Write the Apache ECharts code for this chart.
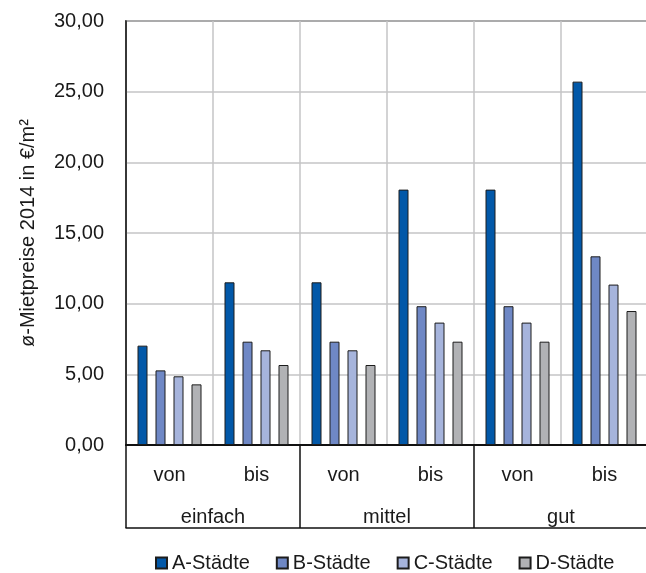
<!DOCTYPE html>
<html>
<head>
<meta charset="utf-8">
<script src="https://cdn.jsdelivr.net/npm/echarts@6/dist/echarts.min.js"></script>
<style>
  html, body { margin: 0; padding: 0; background: #fff; }
  #chart { width: 646px; height: 573px; }
</style>
</head>
<body>
<div id="chart"></div>
<script>
// Rental price ranges (von/bis) per location quality and city class
const subCategories = ['von', 'bis', 'von', 'bis', 'von', 'bis'];
const groups = ['einfach', 'mittel', 'gut'];
const seriesNames = ['A-Städte', 'B-Städte', 'C-Städte', 'D-Städte'];
const aStaedte = [7.03, 11.51, 11.51, 18.07, 18.07, 25.71];
const bStaedte = [5.28, 7.31, 7.31, 9.82, 9.82, 13.35];
const cStaedte = [4.86, 6.70, 6.70, 8.66, 8.66, 11.35];
const dStaedte = [4.29, 5.66, 5.66, 7.31, 7.31, 9.48];
const colors = ['#0258A8', '#6F88C5', '#A6B4DC', '#B1B2B5'];
const yTicks = { min: 0, max: 30, step: 5 };

const font = 'Liberation Sans, Arial, sans-serif';
const textColor = '#1a1a1a';
const values = [aStaedte, bStaedte, cStaedte, dStaedte];

const chart = echarts.init(document.getElementById('chart'), null, { renderer: 'canvas' });

chart.setOption({
  animation: false,
  backgroundColor: '#fff',
  textStyle: { fontFamily: font },
  grid: {
    left: 126, top: 21, width: 522, height: 424,
    outerBoundsMode: 'none',
    containLabel: false,
    show: true, borderColor: '#2b2b2b', borderWidth: 1.5, backgroundColor: 'transparent'
  },
  legend: {
    left: 155,
    top: 553,
    padding: 0,
    icon: 'rect',
    itemWidth: 11, itemHeight: 11, itemGap: 26,
    textStyle: { fontFamily: font, fontSize: 20, color: textColor },
    data: seriesNames
  },
  xAxis: [
    {
      type: 'category',
      data: subCategories,
      position: 'bottom',
      axisLine: { show: true, lineStyle: { color: '#111', width: 2 } },
      axisTick: { show: false },
      splitLine: { show: true, lineStyle: { color: '#c4c4c6', width: 1.5 } },
      axisLabel: { fontFamily: font, fontSize: 20, color: textColor, margin: 20 }
    },
    {
      type: 'category',
      data: groups,
      position: 'bottom',
      offset: 83,
      axisLine: { show: true, lineStyle: { color: '#111', width: 1.5 } },
      axisTick: { show: true, inside: true, length: 83, lineStyle: { color: '#111', width: 1.5 } },
      splitLine: { show: false },
      axisLabel: { inside: true, fontFamily: font, fontSize: 20, color: textColor, margin: 1 }
    }
  ],
  yAxis: {
    type: 'value',
    min: yTicks.min, max: yTicks.max, interval: yTicks.step,
    name: 'ø-Mietpreise 2014 in €/m²',
    nameLocation: 'middle',
    nameRotate: 90,
    nameGap: 88,
    nameTextStyle: { fontFamily: font, fontSize: 20, color: textColor },
    axisLine: { show: true, lineStyle: { color: '#111', width: 1.5 } },
    axisTick: { show: false },
    splitLine: { show: true, lineStyle: { color: '#c4c4c6', width: 1.5 } },
    axisLabel: {
      fontFamily: font, fontSize: 20, color: textColor, margin: 22,
      formatter: v => v.toFixed(2).replace('.', ',')
    }
  },
  series: seriesNames.map((name, i) => ({
    name,
    type: 'bar',
    xAxisIndex: 0,
    data: values[i],
    barWidth: 10,
    barGap: '80%',
    itemStyle: { color: colors[i], borderColor: '#1c1c1c', borderWidth: 1 }
  }))
});
</script>
</body>
</html>
